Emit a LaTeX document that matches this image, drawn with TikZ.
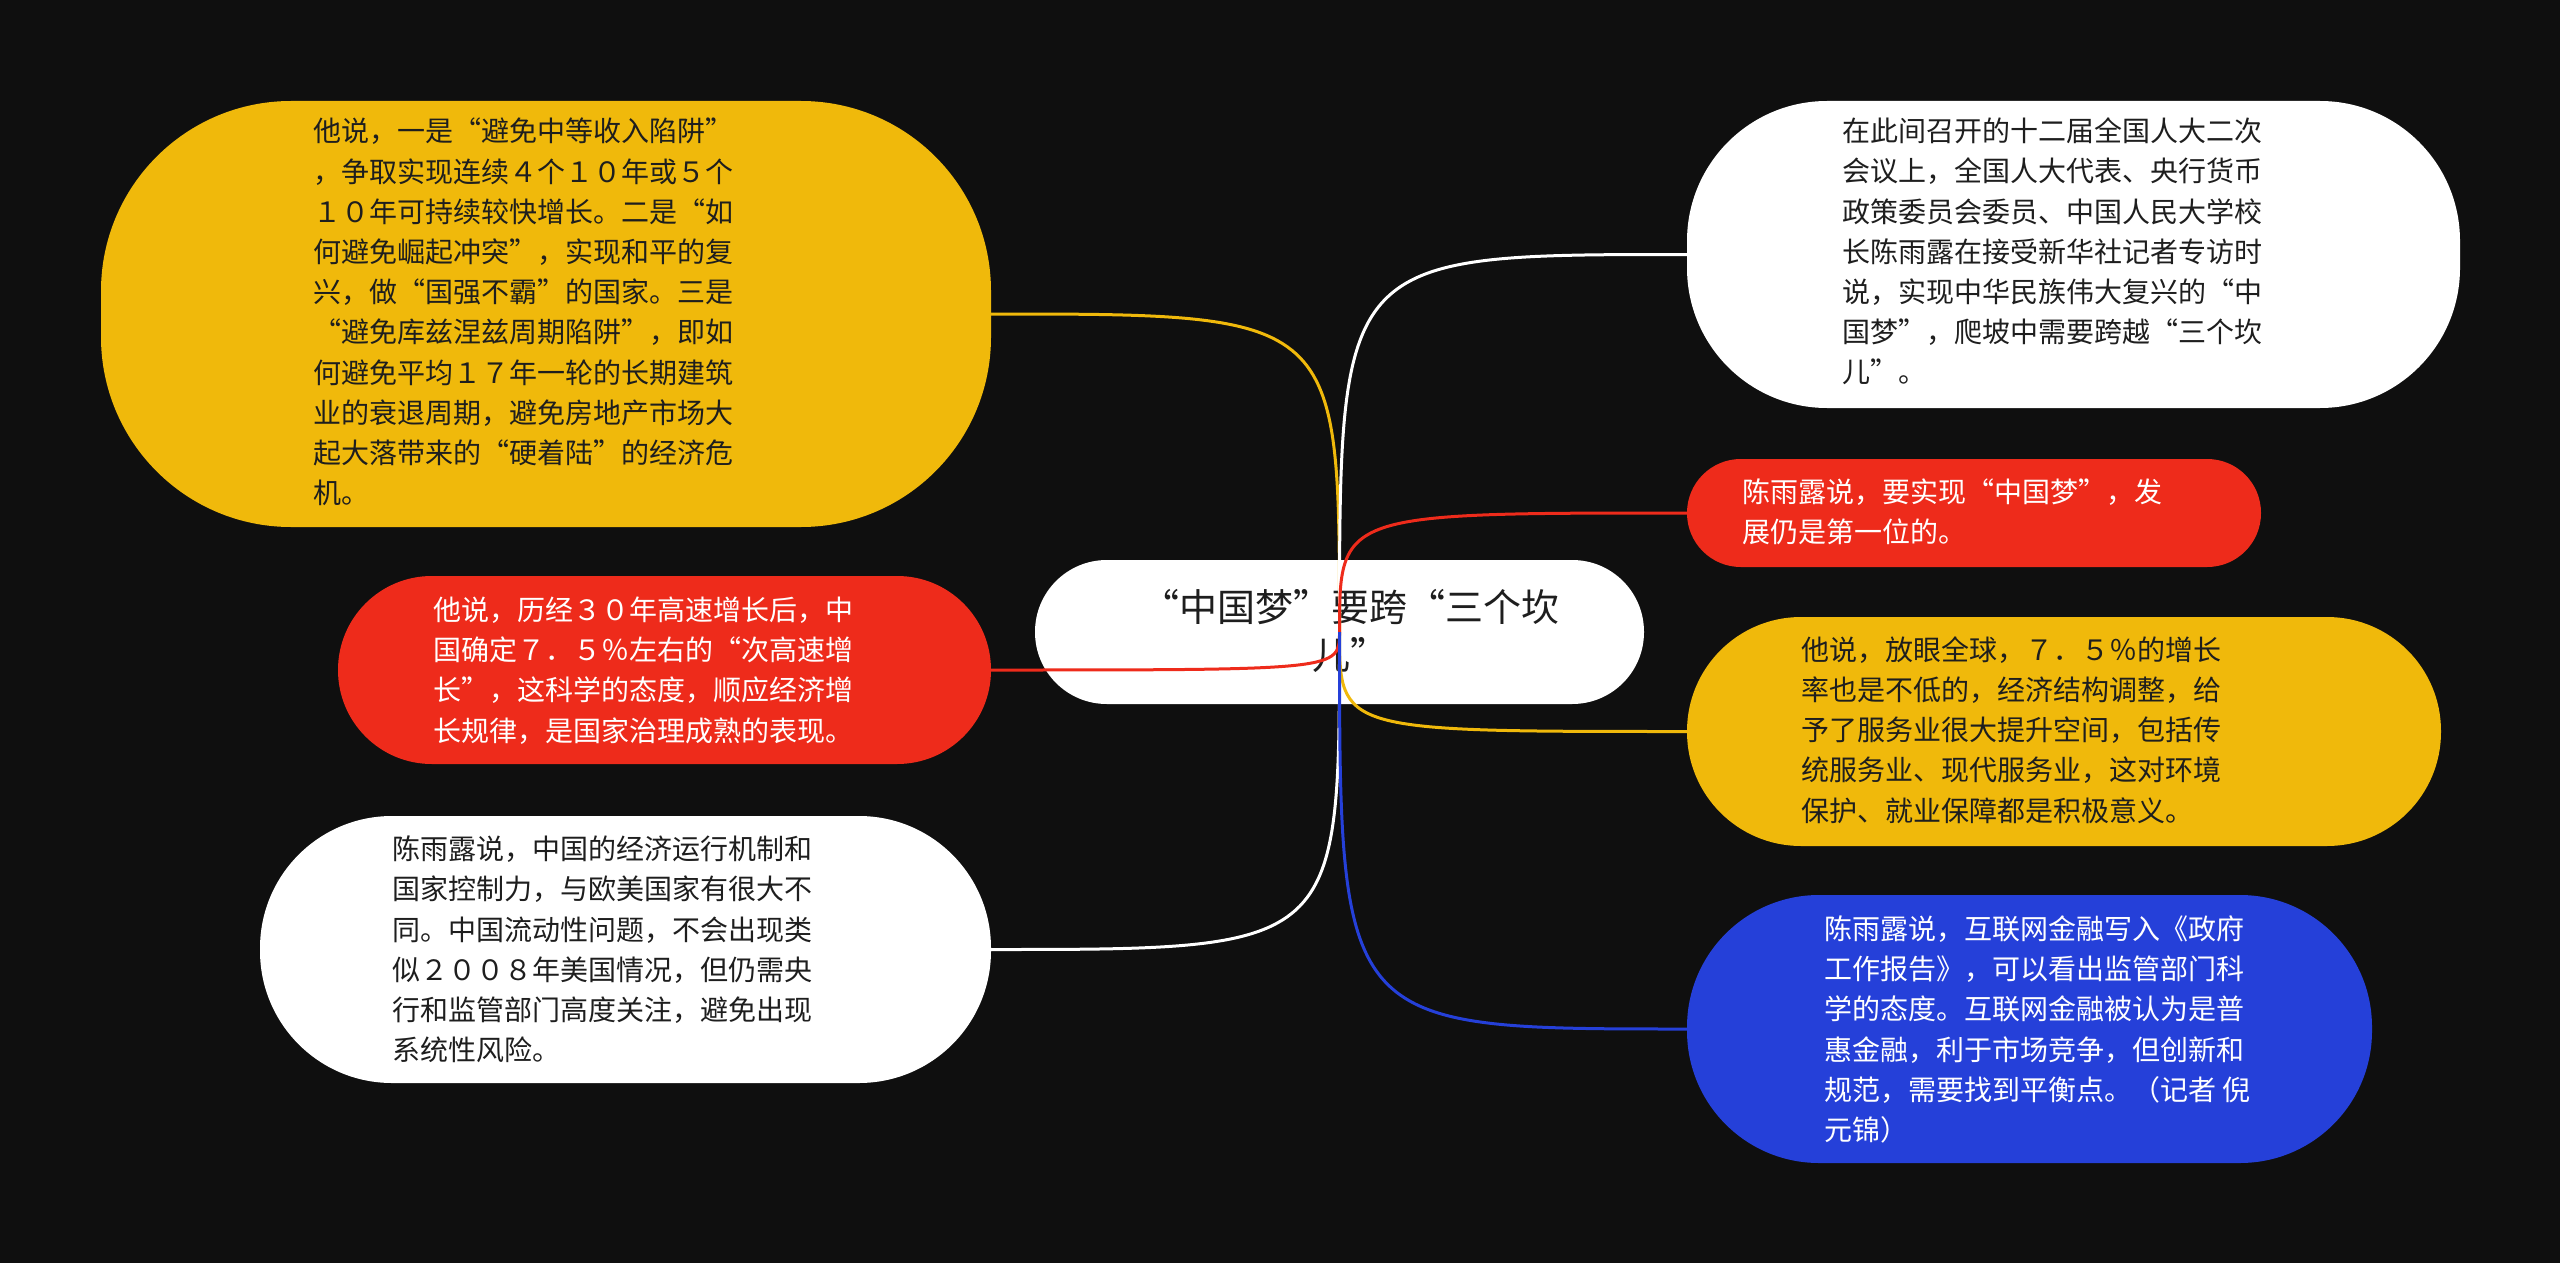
\documentclass[tikz,border=0pt]{standalone}
\usepackage{fontspec}
\setmainfont{Noto Sans CJK SC}
\definecolor{bg}{HTML}{0F0F0F}
\definecolor{yel}{HTML}{F0B90B}
\definecolor{myred}{HTML}{EE2B1B}
\definecolor{myblue}{HTML}{2540D9}
\definecolor{dark}{HTML}{1E1E1E}
\tikzset{
  boxy/.style={inner sep=0pt, outer sep=0pt, rectangle},
  txt/.style={inner sep=0pt, align=left, anchor=west, font=\fontsize{14}{20.1}\selectfont},
  link/.style={line width=1.5pt},
}
\begin{document}
\begin{tikzpicture}[x=0.5pt,y=-0.5pt]
\fill[bg] (0,0) rectangle (2560,1263);
\useasboundingbox (0,0) rectangle (2560,1263);

% boxes
\node[boxy, fill=yel, minimum width=445pt, minimum height=213pt, rounded corners=95pt] (tl) at (546,314) {};
\node[boxy, fill=white, minimum width=386.5pt, minimum height=153.5pt, rounded corners=70pt] (tr) at (2073.5,254.5) {};
\node[boxy, fill=myred, minimum width=287pt, minimum height=54pt, rounded corners=26.9pt] (rr) at (1974,513) {};
\node[boxy, fill=myred, minimum width=326.5pt, minimum height=94pt, rounded corners=46.9pt] (rl) at (664.5,670) {};
\node[boxy, fill=yel, minimum width=377pt, minimum height=114.5pt, rounded corners=57pt] (yr) at (2064,731.5) {};
\node[boxy, fill=white, minimum width=365.5pt, minimum height=133.5pt, rounded corners=66pt] (bl) at (625.5,949.5) {};
\node[boxy, fill=myblue, minimum width=342.5pt, minimum height=134pt, rounded corners=66pt] (bu) at (2029.5,1029) {};
\node[boxy, fill=white, minimum width=304.5pt, minimum height=72pt, rounded corners=35.9pt] (c) at (1339.5,632) {};

% texts
\node[txt, text=dark] (tltx) at (313,312) {他说，一是“避免中等收入陷阱”\\，争取实现连续４个１０年或５个\\１０年可持续较快增长。二是“如\\何避免崛起冲突”，实现和平的复\\兴，做“国强不霸”的国家。三是\\“避免库兹涅兹周期陷阱”，即如\\何避免平均１７年一轮的长期建筑\\业的衰退周期，避免房地产市场大\\起大落带来的“硬着陆”的经济危\\机。};
\node[txt, text=dark] (trtx) at (1842,251.5) {在此间召开的十二届全国人大二次\\会议上，全国人大代表、央行货币\\政策委员会委员、中国人民大学校\\长陈雨露在接受新华社记者专访时\\说，实现中华民族伟大复兴的“中\\国梦”，爬坡中需要跨越“三个坎\\儿”。};
\node[txt, text=white] (rrtx) at (1742,511.5) {陈雨露说，要实现“中国梦”，发\\展仍是第一位的。};
\node[txt, text=white] (rltx) at (433,670.5) {他说，历经３０年高速增长后，中\\国确定７．５％左右的“次高速增\\长”，这科学的态度，顺应经济增\\长规律，是国家治理成熟的表现。};
\node[txt, text=dark] (yrtx) at (1801,730) {他说，放眼全球，７．５％的增长\\率也是不低的，经济结构调整，给\\予了服务业很大提升空间，包括传\\统服务业、现代服务业，这对环境\\保护、就业保障都是积极意义。};
\node[txt, text=dark] (bltx) at (392,949.5) {陈雨露说，中国的经济运行机制和\\国家控制力，与欧美国家有很大不\\同。中国流动性问题，不会出现类\\似２００８年美国情况，但仍需央\\行和监管部门高度关注，避免出现\\系统性风险。};
\node[txt, text=white] (butx) at (1824,1029.5) {陈雨露说，互联网金融写入《政府\\工作报告》，可以看出监管部门科\\学的态度。互联网金融被认为是普\\惠金融，利于市场竞争，但创新和\\规范，需要找到平衡点。（记者 倪\\元锦）};
\node[inner sep=0pt, align=center, text=dark, font=\fontsize{19}{24}\selectfont] (ctx) at (1350,631) {“中国梦”要跨“三个坎\\儿”};

% connectors
\draw[link, yel] (c.center) .. controls (c.center |- tl.east) and (c.center |- tl.east) .. (tl.east);
\draw[link, white] (c.center) .. controls (c.center |- tr.west) and (c.center |- tr.west) .. (tr.west);
\draw[link, myred] (c.center) .. controls (c.center |- rr.west) and (c.center |- rr.west) .. (rr.west);
\draw[link, myred] (c.center) .. controls (c.center |- rl.east) and (c.center |- rl.east) .. (rl.east);
\draw[link, yel] (c.center) .. controls (c.center |- yr.west) and (c.center |- yr.west) .. (yr.west);
\draw[link, white] (c.center) .. controls (c.center |- bl.east) and (c.center |- bl.east) .. (bl.east);
\draw[link, myblue] (c.center) .. controls (c.center |- bu.west) and (c.center |- bu.west) .. (bu.west);
\end{tikzpicture}
\end{document}
